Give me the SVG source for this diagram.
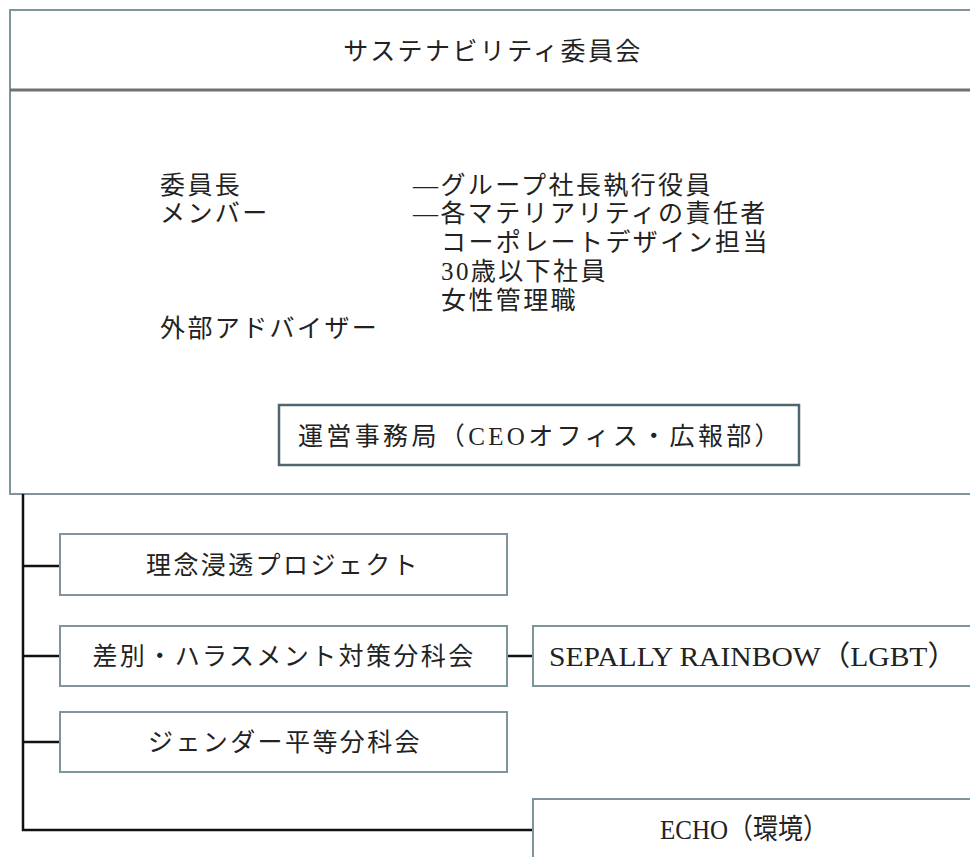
<svg xmlns="http://www.w3.org/2000/svg" width="970" height="857" viewBox="0 0 970 857">
<style>
  text { font-family: "Liberation Serif", "Noto Sans CJK JP", serif; font-size: 25px; fill: #222; letter-spacing: 2.4px; dominant-baseline: central; }
  .c { text-anchor: middle; }
  .ns { letter-spacing: 0; font-size: 28px; }
  .box { fill: #fff; stroke: #7f949c; stroke-width: 2; }
  .ops { fill: #fff; stroke: #4f6670; stroke-width: 2.5; }
  .conn { stroke: #111; stroke-width: 2.5; fill: none; }
</style>
<rect width="970" height="857" fill="#fff"/>
<g id="committee">
  <rect class="box" x="10" y="10" width="980" height="484"/>
  <line x1="10" y1="90" x2="970" y2="90" stroke="#707070" stroke-width="3"/>
  <text class="c" x="493" y="51">サステナビリティ委員会</text>
  <text x="160" y="185">委員長</text>
  <text x="160" y="213">メンバー</text>
  <text x="413" y="185">—グループ社長執行役員</text>
  <text x="413" y="213">—各マテリアリティの責任者</text>
  <text x="441" y="242">コーポレートデザイン担当</text>
  <text x="441" y="271">30歳以下社員</text>
  <text x="441" y="300">女性管理職</text>
  <text x="160" y="328">外部アドバイザー</text>
</g>
<g id="secretariat">
  <rect class="ops" x="279" y="405" width="520" height="60"/>
  <text x="298" y="436" textLength="484">運営事務局（CEOオフィス・広報部）</text>
</g>
<g id="connectors">
  <path class="conn" d="M23 494 V830 H533"/>
  <path class="conn" d="M23 566 H60 M23 656 H60 M23 742 H60 M507 656 H533"/>
</g>
<g id="rinen">
  <rect class="box" x="60" y="534" width="447" height="61"/>
  <text class="c" x="283" y="565">理念浸透プロジェクト</text>
</g>
<g id="harassment">
  <rect class="box" x="60" y="626" width="447" height="60"/>
  <text class="c" x="284" y="656">差別・ハラスメント対策分科会</text>
</g>
<g id="gender">
  <rect class="box" x="60" y="712" width="447" height="60"/>
  <text class="c" x="285" y="742">ジェンダー平等分科会</text>
</g>
<g id="sepally">
  <rect class="box" x="533" y="626" width="460" height="60"/>
  <text class="ns" x="549" y="656" textLength="408" lengthAdjust="spacingAndGlyphs">SEPALLY RAINBOW（LGBT）</text>
</g>
<g id="echo">
  <rect class="box" x="533" y="799" width="460" height="80"/>
  <text class="ns" x="660" y="829" textLength="168" lengthAdjust="spacingAndGlyphs">ECHO（環境）</text>
</g>
</svg>
